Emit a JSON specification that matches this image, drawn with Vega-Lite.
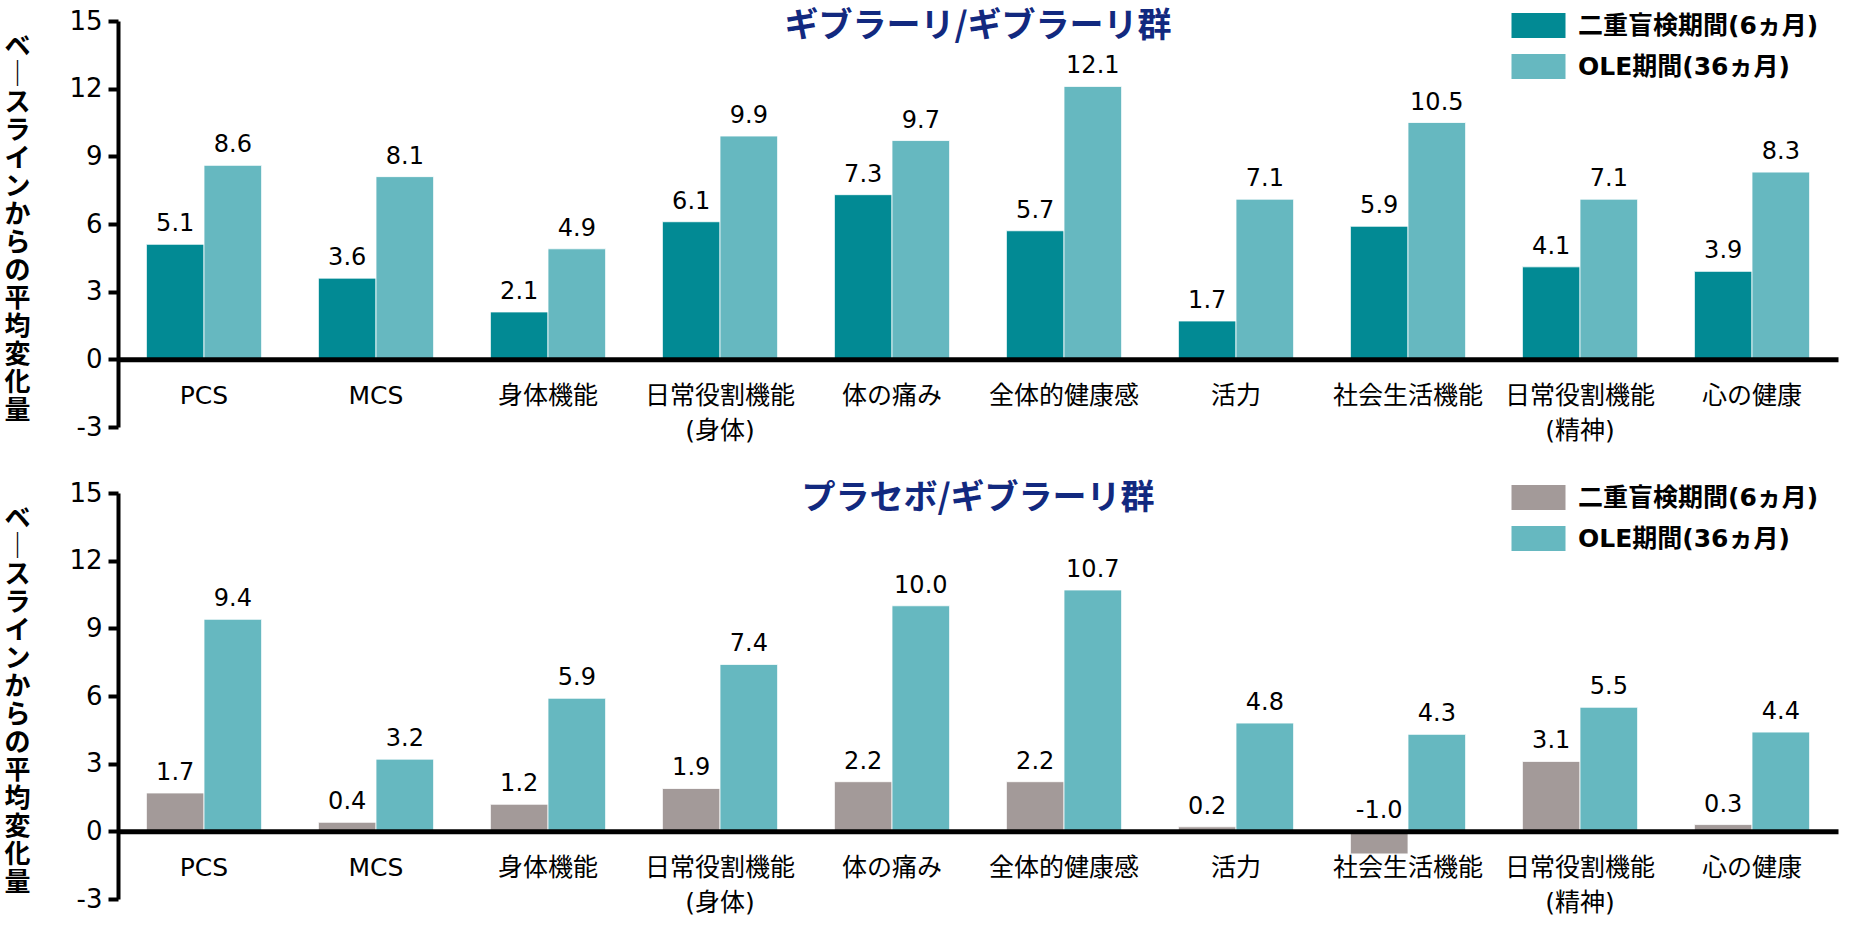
{
  "$schema": "https://vega.github.io/schema/vega-lite/v6.json",
  "padding": {"left": 3, "top": 8, "right": 5, "bottom": 5},
  "config": {
    "font": "DejaVu Sans, Noto Sans CJK JP",
    "view": {"stroke": null},
    "axis": {"labelColor": "#000000", "titleColor": "#000000"},
    "locale": {"number": {"decimal": ".", "thousands": ",", "grouping": [3], "currency": ["", ""], "minus": "-"}}
  },
  "datasets": {
    "rows": [
      {"group": "ギブラーリ/ギブラーリ群", "category": "PCS", "period": "二重盲検期間(6ヵ月)", "value": 5.1},
      {"group": "ギブラーリ/ギブラーリ群", "category": "PCS", "period": "OLE期間(36ヵ月)", "value": 8.6},
      {"group": "ギブラーリ/ギブラーリ群", "category": "MCS", "period": "二重盲検期間(6ヵ月)", "value": 3.6},
      {"group": "ギブラーリ/ギブラーリ群", "category": "MCS", "period": "OLE期間(36ヵ月)", "value": 8.1},
      {"group": "ギブラーリ/ギブラーリ群", "category": "身体機能", "period": "二重盲検期間(6ヵ月)", "value": 2.1},
      {"group": "ギブラーリ/ギブラーリ群", "category": "身体機能", "period": "OLE期間(36ヵ月)", "value": 4.9},
      {"group": "ギブラーリ/ギブラーリ群", "category": "日常役割機能(身体)", "period": "二重盲検期間(6ヵ月)", "value": 6.1},
      {"group": "ギブラーリ/ギブラーリ群", "category": "日常役割機能(身体)", "period": "OLE期間(36ヵ月)", "value": 9.9},
      {"group": "ギブラーリ/ギブラーリ群", "category": "体の痛み", "period": "二重盲検期間(6ヵ月)", "value": 7.3},
      {"group": "ギブラーリ/ギブラーリ群", "category": "体の痛み", "period": "OLE期間(36ヵ月)", "value": 9.7},
      {"group": "ギブラーリ/ギブラーリ群", "category": "全体的健康感", "period": "二重盲検期間(6ヵ月)", "value": 5.7},
      {"group": "ギブラーリ/ギブラーリ群", "category": "全体的健康感", "period": "OLE期間(36ヵ月)", "value": 12.1},
      {"group": "ギブラーリ/ギブラーリ群", "category": "活力", "period": "二重盲検期間(6ヵ月)", "value": 1.7},
      {"group": "ギブラーリ/ギブラーリ群", "category": "活力", "period": "OLE期間(36ヵ月)", "value": 7.1},
      {"group": "ギブラーリ/ギブラーリ群", "category": "社会生活機能", "period": "二重盲検期間(6ヵ月)", "value": 5.9},
      {"group": "ギブラーリ/ギブラーリ群", "category": "社会生活機能", "period": "OLE期間(36ヵ月)", "value": 10.5},
      {"group": "ギブラーリ/ギブラーリ群", "category": "日常役割機能(精神)", "period": "二重盲検期間(6ヵ月)", "value": 4.1},
      {"group": "ギブラーリ/ギブラーリ群", "category": "日常役割機能(精神)", "period": "OLE期間(36ヵ月)", "value": 7.1},
      {"group": "ギブラーリ/ギブラーリ群", "category": "心の健康", "period": "二重盲検期間(6ヵ月)", "value": 3.9},
      {"group": "ギブラーリ/ギブラーリ群", "category": "心の健康", "period": "OLE期間(36ヵ月)", "value": 8.3},
      {"group": "プラセボ/ギブラーリ群", "category": "PCS", "period": "二重盲検期間(6ヵ月)", "value": 1.7},
      {"group": "プラセボ/ギブラーリ群", "category": "PCS", "period": "OLE期間(36ヵ月)", "value": 9.4},
      {"group": "プラセボ/ギブラーリ群", "category": "MCS", "period": "二重盲検期間(6ヵ月)", "value": 0.4},
      {"group": "プラセボ/ギブラーリ群", "category": "MCS", "period": "OLE期間(36ヵ月)", "value": 3.2},
      {"group": "プラセボ/ギブラーリ群", "category": "身体機能", "period": "二重盲検期間(6ヵ月)", "value": 1.2},
      {"group": "プラセボ/ギブラーリ群", "category": "身体機能", "period": "OLE期間(36ヵ月)", "value": 5.9},
      {"group": "プラセボ/ギブラーリ群", "category": "日常役割機能(身体)", "period": "二重盲検期間(6ヵ月)", "value": 1.9},
      {"group": "プラセボ/ギブラーリ群", "category": "日常役割機能(身体)", "period": "OLE期間(36ヵ月)", "value": 7.4},
      {"group": "プラセボ/ギブラーリ群", "category": "体の痛み", "period": "二重盲検期間(6ヵ月)", "value": 2.2},
      {"group": "プラセボ/ギブラーリ群", "category": "体の痛み", "period": "OLE期間(36ヵ月)", "value": 10.0},
      {"group": "プラセボ/ギブラーリ群", "category": "全体的健康感", "period": "二重盲検期間(6ヵ月)", "value": 2.2},
      {"group": "プラセボ/ギブラーリ群", "category": "全体的健康感", "period": "OLE期間(36ヵ月)", "value": 10.7},
      {"group": "プラセボ/ギブラーリ群", "category": "活力", "period": "二重盲検期間(6ヵ月)", "value": 0.2},
      {"group": "プラセボ/ギブラーリ群", "category": "活力", "period": "OLE期間(36ヵ月)", "value": 4.8},
      {"group": "プラセボ/ギブラーリ群", "category": "社会生活機能", "period": "二重盲検期間(6ヵ月)", "value": -1.0},
      {"group": "プラセボ/ギブラーリ群", "category": "社会生活機能", "period": "OLE期間(36ヵ月)", "value": 4.3},
      {"group": "プラセボ/ギブラーリ群", "category": "日常役割機能(精神)", "period": "二重盲検期間(6ヵ月)", "value": 3.1},
      {"group": "プラセボ/ギブラーリ群", "category": "日常役割機能(精神)", "period": "OLE期間(36ヵ月)", "value": 5.5},
      {"group": "プラセボ/ギブラーリ群", "category": "心の健康", "period": "二重盲検期間(6ヵ月)", "value": 0.3},
      {"group": "プラセボ/ギブラーリ群", "category": "心の健康", "period": "OLE期間(36ヵ月)", "value": 4.4}
    ]
  },
  "data": {"name": "rows"},
  "resolve": {"scale": {"color": "independent"}, "legend": {"color": "independent"}},
  "spacing": 36,
  "vconcat": [
    {
      "title": {"text": "ギブラーリ/ギブラーリ群", "fontSize": 34, "fontWeight": "bold", "color": "#12297F", "anchor": "middle", "baseline": "top", "offset": -36, "font": "Noto Sans CJK JP"},
      "width": 1720,
      "height": 406,
      "transform": [
        {"filter": "datum.group === 'ギブラーリ/ギブラーリ群'"},
        {"calculate": "max(datum.value, 0)", "as": "labelY"}
      ],
      "encoding": {
        "x": {
          "field": "category", "type": "nominal",
          "sort": ["PCS", "MCS", "身体機能", "日常役割機能(身体)", "体の痛み", "全体的健康感", "活力", "社会生活機能", "日常役割機能(精神)", "心の健康"],
          "scale": {"paddingInner": 0.33, "paddingOuter": 0.165},
          "axis": {"title": null, "orient": "bottom", "offset": -67.67, "domain": true, "domainColor": "#000000", "domainWidth": 5, "ticks": false, "labelAngle": 0, "labelFontSize": 25, "labelPadding": 24, "labelBaseline": "top", "labelLineHeight": 35, "labelLimit": 0, "zindex": 1,
            "labelExpr": "indexof(datum.label, '(') > 0 ? [slice(datum.label, 0, indexof(datum.label, '(')), slice(datum.label, indexof(datum.label, '('))] : datum.label"}
        },
        "xOffset": {"field": "period", "type": "nominal", "sort": ["二重盲検期間(6ヵ月)", "OLE期間(36ヵ月)"], "scale": {"paddingInner": 0, "paddingOuter": 0}}
      },
      "layer": [
        {
          "mark": {"type": "bar", "stroke": "#ffffff", "strokeWidth": 0.8, "opacity": 1},
          "encoding": {
            "y": {"field": "value", "type": "quantitative",
              "scale": {"domain": [-3, 15], "nice": false, "zero": false},
              "axis": {"values": [-3, 0, 3, 6, 9, 12, 15], "grid": false, "domainColor": "#000000", "domainWidth": 4, "tickColor": "#000000", "tickWidth": 4, "tickSize": 10, "labelFontSize": 26, "labelPadding": 6,
                "title": ["ベ", "｜", "ス", "ラ", "イ", "ン", "か", "ら", "の", "平", "均", "変", "化", "量"],
                "titleAngle": 0, "titleFontSize": 26, "titleFontWeight": "bold", "titleLineHeight": 28, "titleX": -101, "titleY": 12, "titleBaseline": "top", "titleAlign": "center", "titleFont": "Noto Sans CJK JP"}
            },
            "color": {"field": "period", "type": "nominal",
              "scale": {"domain": ["二重盲検期間(6ヵ月)", "OLE期間(36ヵ月)"], "range": ["#028A94", "#66B8C0"]},
              "legend": {"title": null, "orient": "none", "legendX": 1408, "legendY": -8, "symbolType": "M-2.16,-1H2.16V1H-2.16Z", "symbolSize": 625, "symbolStrokeWidth": 0, "symbolOpacity": 1, "labelFontSize": 25, "labelFontWeight": "bold", "labelColor": "#000000", "labelOffset": 27, "rowPadding": 15, "labelLimit": 0}
            }
          }
        },
        {
          "mark": {"type": "text", "baseline": "bottom", "dy": -8, "fontSize": 24, "color": "#000000"},
          "encoding": {
            "y": {"field": "labelY", "type": "quantitative", "scale": {"domain": [-3, 15], "nice": false, "zero": false}},
            "text": {"field": "value", "type": "quantitative", "format": ".1f"}
          }
        }
      ]
    },
    {
      "title": {"text": "プラセボ/ギブラーリ群", "fontSize": 34, "fontWeight": "bold", "color": "#12297F", "anchor": "middle", "baseline": "top", "offset": -36, "font": "Noto Sans CJK JP"},
      "width": 1720,
      "height": 406,
      "transform": [
        {"filter": "datum.group === 'プラセボ/ギブラーリ群'"},
        {"calculate": "max(datum.value, 0)", "as": "labelY"}
      ],
      "encoding": {
        "x": {
          "field": "category", "type": "nominal",
          "sort": ["PCS", "MCS", "身体機能", "日常役割機能(身体)", "体の痛み", "全体的健康感", "活力", "社会生活機能", "日常役割機能(精神)", "心の健康"],
          "scale": {"paddingInner": 0.33, "paddingOuter": 0.165},
          "axis": {"title": null, "orient": "bottom", "offset": -67.67, "domain": true, "domainColor": "#000000", "domainWidth": 5, "ticks": false, "labelAngle": 0, "labelFontSize": 25, "labelPadding": 24, "labelBaseline": "top", "labelLineHeight": 35, "labelLimit": 0, "zindex": 1,
            "labelExpr": "indexof(datum.label, '(') > 0 ? [slice(datum.label, 0, indexof(datum.label, '(')), slice(datum.label, indexof(datum.label, '('))] : datum.label"}
        },
        "xOffset": {"field": "period", "type": "nominal", "sort": ["二重盲検期間(6ヵ月)", "OLE期間(36ヵ月)"], "scale": {"paddingInner": 0, "paddingOuter": 0}}
      },
      "layer": [
        {
          "mark": {"type": "bar", "stroke": "#ffffff", "strokeWidth": 0.8, "opacity": 1},
          "encoding": {
            "y": {"field": "value", "type": "quantitative",
              "scale": {"domain": [-3, 15], "nice": false, "zero": false},
              "axis": {"values": [-3, 0, 3, 6, 9, 12, 15], "grid": false, "domainColor": "#000000", "domainWidth": 4, "tickColor": "#000000", "tickWidth": 4, "tickSize": 10, "labelFontSize": 26, "labelPadding": 6,
                "title": ["ベ", "｜", "ス", "ラ", "イ", "ン", "か", "ら", "の", "平", "均", "変", "化", "量"],
                "titleAngle": 0, "titleFontSize": 26, "titleFontWeight": "bold", "titleLineHeight": 28, "titleX": -101, "titleY": 12, "titleBaseline": "top", "titleAlign": "center", "titleFont": "Noto Sans CJK JP"}
            },
            "color": {"field": "period", "type": "nominal",
              "scale": {"domain": ["二重盲検期間(6ヵ月)", "OLE期間(36ヵ月)"], "range": ["#A39A99", "#66B8C0"]},
              "legend": {"title": null, "orient": "none", "legendX": 1408, "legendY": -8, "symbolType": "M-2.16,-1H2.16V1H-2.16Z", "symbolSize": 625, "symbolStrokeWidth": 0, "symbolOpacity": 1, "labelFontSize": 25, "labelFontWeight": "bold", "labelColor": "#000000", "labelOffset": 27, "rowPadding": 15, "labelLimit": 0}
            }
          }
        },
        {
          "mark": {"type": "text", "baseline": "bottom", "dy": -8, "fontSize": 24, "color": "#000000"},
          "encoding": {
            "y": {"field": "labelY", "type": "quantitative", "scale": {"domain": [-3, 15], "nice": false, "zero": false}},
            "text": {"field": "value", "type": "quantitative", "format": ".1f"}
          }
        }
      ]
    }
  ]
}
